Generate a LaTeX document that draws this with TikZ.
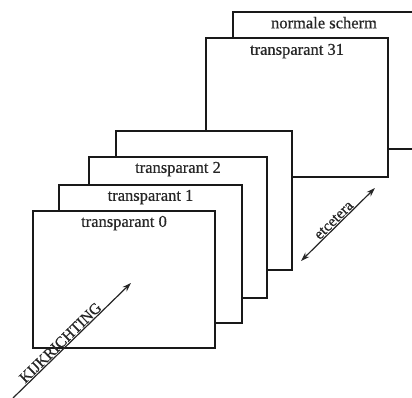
\documentclass[tikz,border=0pt]{standalone}
\usepackage{fontspec}
\setmainfont{Liberation Serif}
\newfontfamily\heavyserif{Liberation Serif}[FakeBold=0.5]
\usetikzlibrary{arrows.meta}
\begin{document}
\begin{tikzpicture}[x=1pt,y=-1pt,
  frame/.style={draw=black!90, line width=2.6pt, fill=white, rectangle, inner sep=0pt},
  lbl/.style={font=\heavyserif\fontsize{16.5}{18}\selectfont, anchor=north, inner sep=0pt, text=black!85},
  arr/.style={line width=1.2pt, draw=black!85},
  atext/.style={font=\heavyserif\fontsize{15.5}{17}\selectfont, sloped, above, inner sep=0.8pt, text=black!85}]
\useasboundingbox (0,0) rectangle (412,398);
\clip (0,0) rectangle (412,398);
% back to front
\node[frame, minimum width=182pt, minimum height=137pt] (fn) at (324,80.5) {};
\node[lbl] (tn) at ([yshift=-6pt]fn.north) {normale scherm};
\node[frame, minimum width=182pt, minimum height=139pt] (f31) at (297,107.5) {};
\node[lbl] (t31) at ([yshift=-7pt]f31.north) {transparant 31};
\node[frame, minimum width=176pt, minimum height=139pt] (f3) at (204,200.5) {};
\node[frame, minimum width=178pt, minimum height=141pt] (f2) at (178,227.5) {};
\node[lbl] (t2) at ([yshift=-6pt]f2.north) {transparant 2};
\node[frame, minimum width=183pt, minimum height=138pt] (f1) at (150.5,254) {};
\node[lbl] (t1) at ([yshift=-6pt]f1.north) {transparant 1};
\node[frame, minimum width=182pt, minimum height=137pt] (f0) at (124,279.5) {};
\node[lbl] (t0) at ([yshift=-6pt]f0.north) {transparant 0};
% arrows
\coordinate (k0) at (13,398);
\coordinate (k1) at (131,283);
\draw[arr, -{Stealth[length=9pt,width=6pt]}] (k0) -- node[atext, pos=0.44] {KIJKRICHTING} (k1);
\coordinate (e0) at (301,261);
\coordinate (e1) at (375,188);
\draw[arr, {Stealth[length=9pt,width=6pt]}-{Stealth[length=9pt,width=6pt]}] (e0) -- node[atext, pos=0.5] {etcetera} (e1);
\end{tikzpicture}
\end{document}
